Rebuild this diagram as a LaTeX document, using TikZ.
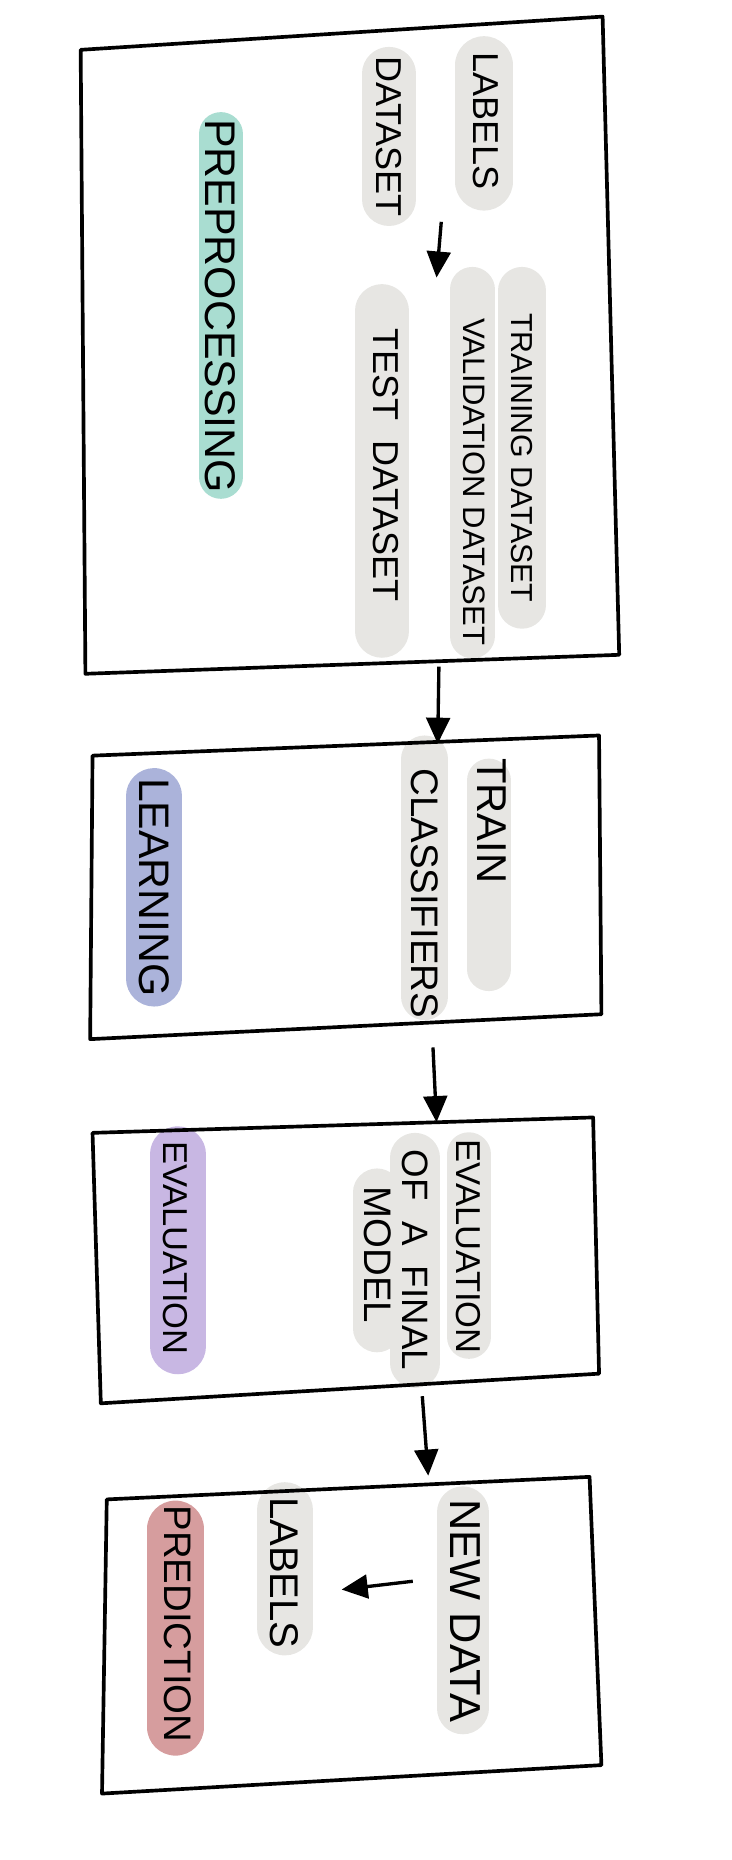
\documentclass[tikz,border=0pt]{standalone}
\usepackage{fontspec}
\setmainfont{Liberation Sans}
\usetikzlibrary{arrows.meta}

\definecolor{hlgray}{HTML}{E7E6E3}
\definecolor{hlteal}{HTML}{A9DDD1}
\definecolor{hlblue}{HTML}{ABB3DA}
\definecolor{hlpurple}{HTML}{C8B7E3}
\definecolor{hlred}{HTML}{D69D9E}

\begin{document}
\begin{tikzpicture}[x=0.025cm, y=-0.025cm,
	box/.style={line width=2.2pt, line join=round, line cap=round},
	arr/.style={line width=2pt, -{Triangle[length=0.55cm, width=0.5cm]}},
	hl/.style={line width=#1*0.025cm, line cap=round},
	lbl/.style={rotate=-90, inner sep=0pt, font=\fontsize{#1}{#1}\selectfont}]
			\useasboundingbox (0,0) rectangle (617,1568);
			% highlights
			\draw[hl=37, hlteal] (186,113) -- (186,402);
			\draw[hl=45, hlgray] (328,62) -- (328,168);
			\draw[hl=49, hlgray] (408,55) -- (408,153);
			\draw[hl=45, hlgray] (322,262) -- (322,532);
			\draw[hl=38, hlgray] (398,244) -- (398,536);
			\draw[hl=40, hlgray] (440,245) -- (440,510);
			\draw[hl=47, hlblue] (130,671) -- (130,825);
			\draw[hl=40, hlgray] (358,640) -- (358,840);
			\draw[hl=37, hlgray] (412,658) -- (412,817);
			\draw[hl=47, hlpurple] (150,973) -- (150,1135);
			\draw[hl=37, hlgray] (395,973) -- (395,1127);
			\draw[hl=42, hlgray] (350,976) -- (350,1149);
			\draw[hl=40, hlgray] (318,1005) -- (318,1120);
			\draw[hl=48, hlred] (148,1289) -- (148,1456);
			\draw[hl=47, hlgray] (240,1273) -- (240,1372);
			\draw[hl=44, hlgray] (390,1275) -- (390,1440);

			% boxes
			\coordinate (b1nw) at (68,42);
			\coordinate (b1ne) at (508,14);
			\coordinate (b1se) at (522,552);
			\coordinate (b1sw) at (72,568);
			\draw[box] (b1nw) -- (b1ne) -- (b1se) -- (b1sw) -- cycle;
			\coordinate (b2nw) at (78,637);
			\coordinate (b2ne) at (505,620);
			\coordinate (b2se) at (507,855);
			\coordinate (b2sw) at (76,876);
			\draw[box] (b2nw) -- (b2ne) -- (b2se) -- (b2sw) -- cycle;
			\coordinate (b3nw) at (78,955);
			\coordinate (b3ne) at (500,942);
			\coordinate (b3se) at (505,1158);
			\coordinate (b3sw) at (85,1183);
			\draw[box] (b3nw) -- (b3ne) -- (b3se) -- (b3sw) -- cycle;
			\coordinate (b4nw) at (90,1264);
			\coordinate (b4ne) at (497,1245);
			\coordinate (b4se) at (507,1488);
			\coordinate (b4sw) at (86,1512);
			\draw[box] (b4nw) -- (b4ne) -- (b4se) -- (b4sw) -- cycle;

			% texts
			\node[lbl=25.7] (prep) at (186,258) {PREPROCESSING};
			\node[lbl=21.6] (dataset) at (328,115) {DATASET};
			\node[lbl=21.6] (labels) at (410,102) {LABELS};
			\node[lbl=21.6] (test) at (325,392) {TEST\ \ DATASET};
			\node[lbl=18.6] (valid) at (400,406) {VALIDATION DATASET};
			\node[lbl=18.2] (train) at (440,386) {TRAINING DATASET};
			\node[lbl=25.6] (learn) at (130,748) {LEARNING};
			\node[lbl=23] (classif) at (358,753) {CLASSIFIERS};
			\node[lbl=25] (trainc) at (415,692) {TRAIN};
			\node[lbl=20.7] (evalu) at (148,1052) {EVALUATION};
			\node[lbl=20.7] (evalfin) at (395,1051) {EVALUATION};
			\node[lbl=22] (ofa) at (350,1062) {OF\ \ A\ \ FINAL};
			\node[lbl=23] (model) at (318,1058) {MODEL};
			\node[lbl=23] (predict) at (150,1369) {PREDICTION};
			\node[lbl=24] (labelsb) at (240,1326) {LABELS};
			\node[lbl=26] (newdata) at (392,1358) {NEW DATA};

			% arrows
			\coordinate (s0) at (372,187);
			\coordinate (e0) at (368,234);
			\draw[arr] (s0) -- (e0);
			\coordinate (s1) at (370,562);
			\coordinate (e1) at (369,627);
			\draw[arr] (s1) -- (e1);
			\coordinate (s2) at (365,883);
			\coordinate (e2) at (368,946);
			\draw[arr] (s2) -- (e2);
			\coordinate (s3) at (356,1177);
			\coordinate (e3) at (361,1244);
			\draw[arr] (s3) -- (e3);
			\coordinate (s4) at (348,1333);
			\coordinate (e4) at (288,1340);
			\draw[arr] (s4) -- (e4);
\end{tikzpicture}
\end{document}
